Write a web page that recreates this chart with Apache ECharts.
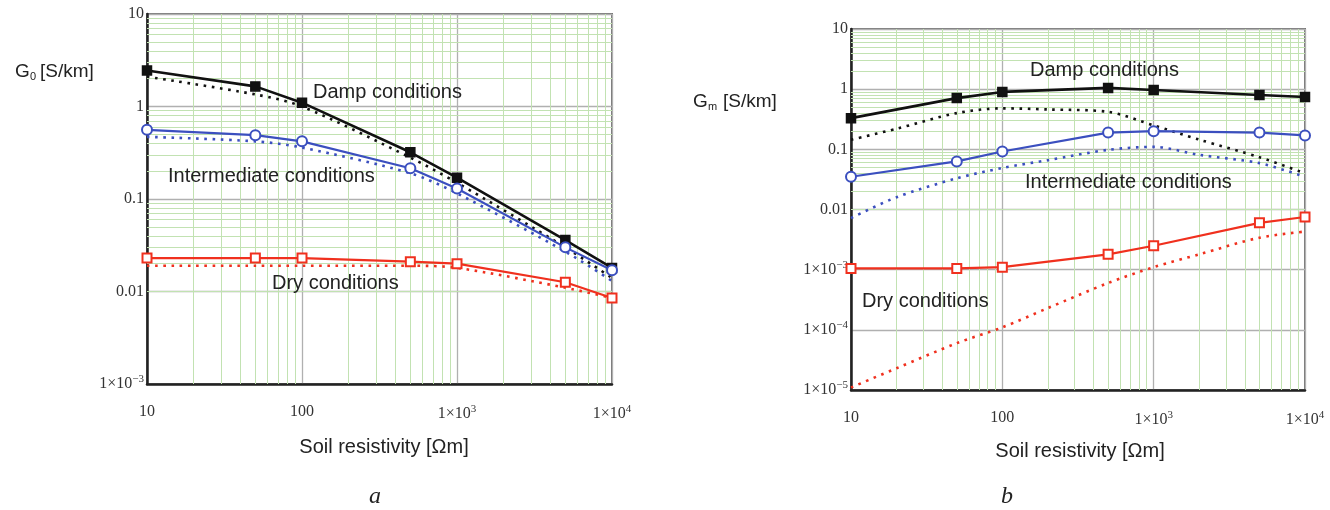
<!DOCTYPE html>
<html>
<head>
<meta charset="utf-8">
<title>G0 and Gm versus soil resistivity</title>
<script src="https://cdn.jsdelivr.net/npm/echarts@6/dist/echarts.min.js"></script>
<style>
  html, body { margin: 0; padding: 0; background: #fff; }
  #chart { width: 1330px; height: 510px; }
</style>
</head>
<body>
<div id="chart"></div>
<script>
// soil resistivity [Ωm]
const resistivity = [10, 50, 100, 500, 1000, 5000, 10000]
const resistivityFine = [10, 20, 50, 100, 200, 500, 1000, 2000, 5000, 10000]

// a) G0 [S/km]
const g0DampSolid = [2.45, 1.65, 1.1, 0.32, 0.17, 0.036, 0.018]
const g0DampDotted = [2.1, 1.35, 1.0, 0.28, 0.15, 0.03, 0.014]
const g0InterSolid = [0.56, 0.49, 0.42, 0.215, 0.13, 0.03, 0.017]
const g0InterDotted = [0.47, 0.42, 0.36, 0.19, 0.115, 0.027, 0.013]
const g0DrySolid = [0.023, 0.023, 0.023, 0.021, 0.02, 0.0126, 0.0085]
const g0DryDotted = [0.019, 0.019, 0.019, 0.019, 0.018, 0.011, 0.0085]

// b) Gm [S/km]
const gmDampSolid = [0.33, 0.71, 0.9, 1.05, 0.97, 0.8, 0.74]
const gmDampDotted = [0.144, 0.22, 0.4, 0.48, 0.46, 0.42, 0.25, 0.145, 0.074, 0.04]
const gmInterSolid = [0.035, 0.063, 0.092, 0.19, 0.2, 0.19, 0.17]
const gmInterDotted = [0.0072, 0.016, 0.033, 0.049, 0.066, 0.098, 0.11, 0.081, 0.059, 0.035]
const gmDrySolid = [0.00105, 0.00105, 0.0011, 0.0018, 0.0025, 0.006, 0.0075]
const gmDryDotted = [1.1e-5, 2.3e-5, 6e-5, 1.1e-4, 2.3e-4, 6e-4, 1.1e-3, 1.8e-3, 3.4e-3, 4.3e-3]

// tick labels by decade exponent
const decadeExps = [-5, -4, -3, -2, -1, 0, 1, 2, 3, 4]
const decadeLabels = ['1×10{sup|−5}', '1×10{sup|−4}', '1×10{sup|−3}', '0.01', '0.1', '1', '10', '100', '1×10{sup|3}', '1×10{sup|4}']

const BLACK = '#111'
const BLUE = '#3b4fbf'
const RED = '#f0301e'
const MINOR = '#c2e2b2'
const MAJOR = '#b0b0b0'
const SANS = '"Liberation Sans", Arial, sans-serif'

const pairs = (xs, ys) => xs.map((x, i) => [x, ys[i]])

function tickLabel(v) {
  const e = Math.round(Math.log10(v))
  const i = decadeExps.indexOf(e)
  return i < 0 ? '' : decadeLabels[i]
}

function minorValues(fromExp, toExp) {
  const out = []
  for (let e = fromExp; e < toExp; e++) {
    for (let k = 2; k <= 9; k++) out.push(k * Math.pow(10, e))
  }
  return out
}

const labelRich = {
  sup: { fontFamily: 'Liberation Serif', fontSize: 11, color: '#333', padding: [0, 0, 9, 0] },
}

function axisFor(gridIndex, min, max, isX) {
  return {
    type: 'log',
    gridIndex,
    min,
    max,
    axisLine: { show: true, onZero: false, lineStyle: { color: '#222', width: 2.5 } },
    axisTick: { show: false },
    splitLine: { show: true, lineStyle: { color: MAJOR, width: 1.3 } },
    axisLabel: {
      margin: isX ? 20 : 3,
      fontFamily: 'Liberation Serif',
      fontSize: 16,
      color: '#333',
      formatter: tickLabel,
      rich: labelRich,
    },
  }
}

function gridLines(idx, yFrom, yTo) {
  return {
    type: 'line',
    xAxisIndex: idx,
    yAxisIndex: idx,
    data: [],
    z: 1,
    silent: true,
    markLine: {
      silent: true,
      z: 1,
      symbol: 'none',
      animation: false,
      label: { show: false },
      emphasis: { disabled: true },
      lineStyle: { color: MINOR, width: 1, type: 'solid' },
      data: minorValues(1, 4).map(v => ({ xAxis: v })).concat(minorValues(yFrom, yTo).map(v => ({ yAxis: v }))),
    },
  }
}

function solid(idx, ys, color, symbol, size, width) {
  return {
    type: 'line',
    xAxisIndex: idx,
    yAxisIndex: idx,
    data: pairs(resistivity, ys),
    z: 4,
    symbol,
    symbolSize: size,
    showSymbol: true,
    lineStyle: { color, width },
    itemStyle: { color, borderColor: color, borderWidth: 1.5 },
  }
}

function dotted(idx, xs, ys, color) {
  return {
    type: 'line',
    xAxisIndex: idx,
    yAxisIndex: idx,
    data: pairs(xs, ys),
    z: 3,
    symbol: 'none',
    smooth: 0.3,
    lineStyle: { color, width: 2.6, type: [2.6, 5.6] },
  }
}

const label = (x, y, text, size, extra) => ({
  type: 'text',
  x,
  y,
  z: 10,
  style: Object.assign({ text, fill: '#222', font: size + 'px ' + SANS, textVerticalAlign: 'middle' }, extra || {}),
})

const chart = echarts.init(document.getElementById('chart'))

chart.setOption({
  animation: false,
  backgroundColor: '#fff',
  grid: [
    { left: 147, top: 14, width: 465, height: 370, show: true, borderColor: '#777', borderWidth: 2, outerBoundsMode: 'none' },
    { left: 851, top: 29, width: 454, height: 361, show: true, borderColor: '#777', borderWidth: 2, outerBoundsMode: 'none' },
  ],
  xAxis: [axisFor(0, 10, 10000, true), axisFor(1, 10, 10000, true)],
  yAxis: [axisFor(0, 0.001, 10, false), axisFor(1, 0.00001, 10, false)],
  series: [
    gridLines(0, -3, 1),
    gridLines(1, -5, 1),

    dotted(0, resistivity, g0DampDotted, BLACK),
    dotted(0, resistivity, g0InterDotted, BLUE),
    dotted(0, resistivity, g0DryDotted, RED),
    solid(0, g0DampSolid, BLACK, 'rect', 9, 2.6),
    solid(0, g0InterSolid, BLUE, 'emptyCircle', 10, 2.2),
    solid(0, g0DrySolid, RED, 'emptyRect', 9, 2.2),

    dotted(1, resistivityFine, gmDampDotted, BLACK),
    dotted(1, resistivityFine, gmInterDotted, BLUE),
    dotted(1, resistivityFine, gmDryDotted, RED),
    solid(1, gmDampSolid, BLACK, 'rect', 9, 2.6),
    solid(1, gmInterSolid, BLUE, 'emptyCircle', 10, 2.2),
    solid(1, gmDrySolid, RED, 'emptyRect', 9, 2.2),
  ],
  graphic: [
    // y axis titles with subscripts
    label(15, 72, 'G', 19),
    label(30, 77, '0', 11),
    label(40, 72, '[S/km]', 19),
    label(693, 102, 'G', 19),
    label(708, 107, 'm', 11),
    label(723, 102, '[S/km]', 19),
    // x axis titles
    label(384, 447, 'Soil resistivity [Ωm]', 20, { textAlign: 'center' }),
    label(1080, 451, 'Soil resistivity [Ωm]', 20, { textAlign: 'center' }),
    // panel letters
    { type: 'text', x: 375, y: 497, style: { text: 'a', fill: '#222', font: 'italic 24px "Liberation Serif", serif', textAlign: 'center', textVerticalAlign: 'middle' } },
    { type: 'text', x: 1007, y: 497, style: { text: 'b', fill: '#222', font: 'italic 24px "Liberation Serif", serif', textAlign: 'center', textVerticalAlign: 'middle' } },
    // curve annotations
    label(313, 92, 'Damp conditions', 20),
    label(168, 176, 'Intermediate conditions', 20),
    label(272, 283, 'Dry conditions', 20),
    label(1030, 70, 'Damp conditions', 20),
    label(1025, 182, 'Intermediate conditions', 20),
    label(862, 301, 'Dry conditions', 20),
  ],
})
</script>
</body>
</html>
